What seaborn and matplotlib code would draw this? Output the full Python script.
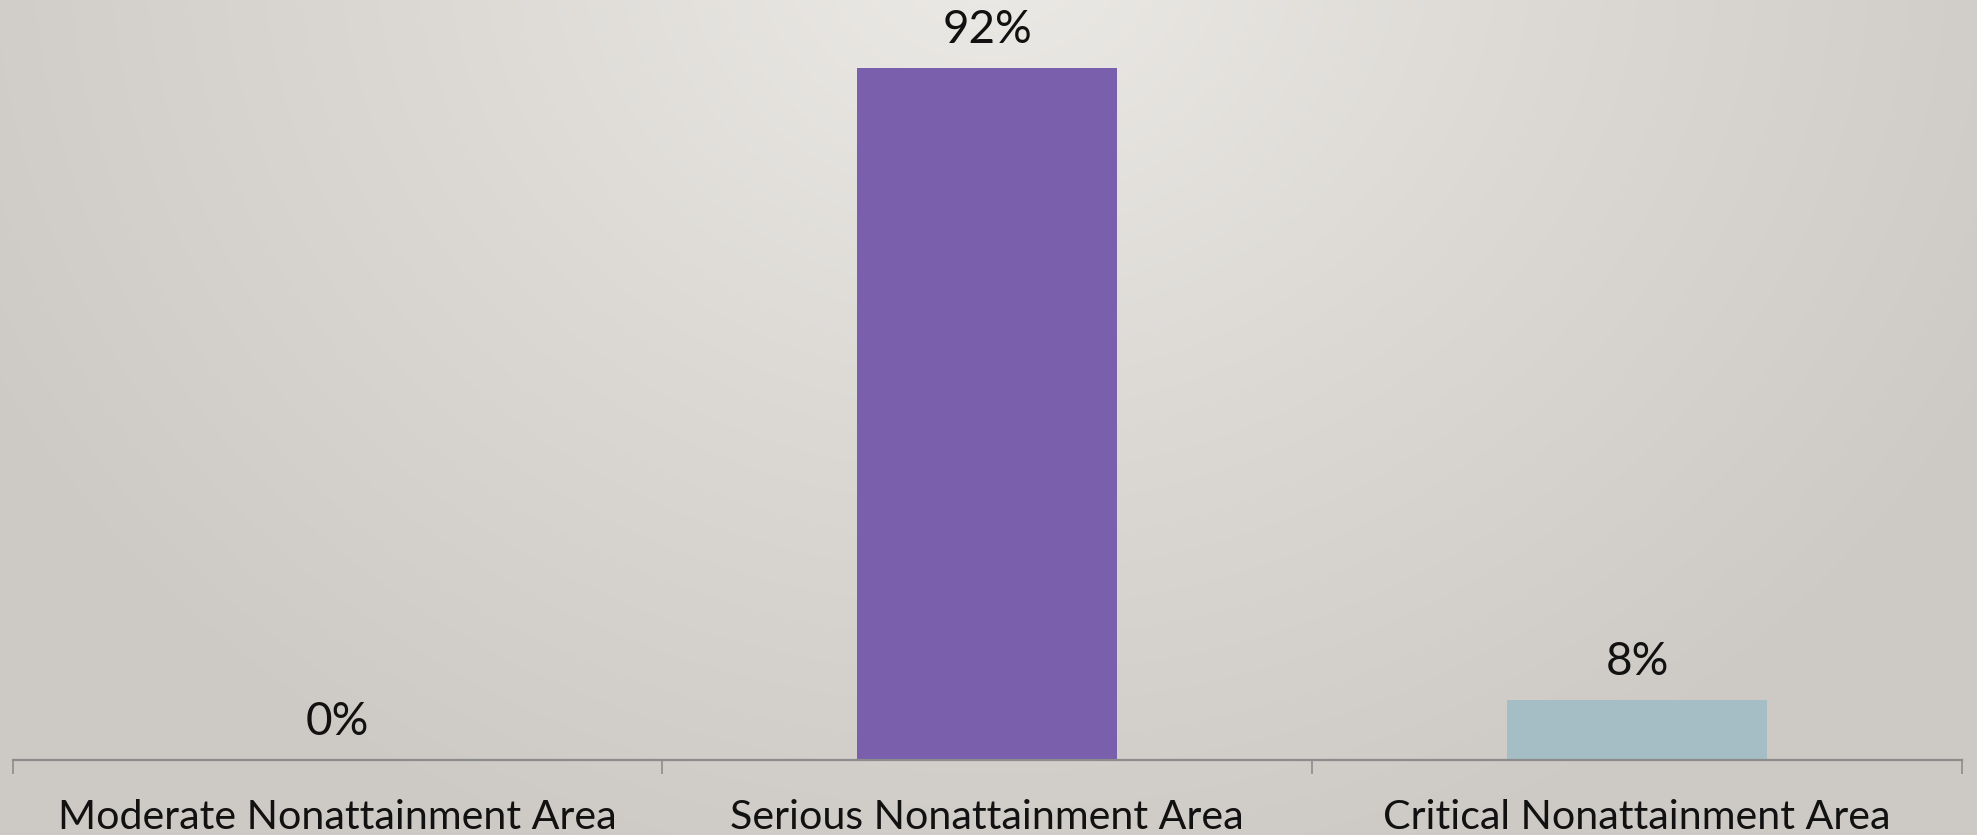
import numpy as np
import pandas as pd
import matplotlib
matplotlib.use("Agg")
import matplotlib.pyplot as plt
import seaborn as sns
from matplotlib.colors import LinearSegmentedColormap

categories = ["Moderate Nonattainment Area", "Serious Nonattainment Area", "Critical Nonattainment Area"]
shares = [0, 92, 8]
labels = ["0%", "92%", "8%"]
colors = ["#7A5FAD", "#7A5FAD", "#A5BDC4"]

sns.set_theme(style="white")
plt.rcParams["font.family"] = ["Lato", "DejaVu Sans"]

W, H = 1977, 835
fig = plt.figure(figsize=(W / 100, H / 100), dpi=100)

# soft radial backdrop, brightest near the top centre
bg = fig.add_axes([0, 0, 1, 1], zorder=0)
yy, xx = np.mgrid[0:H, 0:W]
r = np.sqrt(((xx - 990) / 1150.0) ** 2 + ((yy + 60) / 1000.0) ** 2)
r = np.clip(r, 0, 1)
cmap = LinearSegmentedColormap.from_list("bg", ["#ECEAE6", "#DCD9D5", "#CDC9C4"])
bg.imshow(r, cmap=cmap, vmin=0, vmax=1, aspect="auto", extent=[0, W, H, 0])
bg.axis("off")

df = pd.DataFrame({"category": categories, "share": shares})
ax = fig.add_axes([12.6 / W, 75 / H, (1962 - 12.6) / W, 752 / H], zorder=1)
ax.patch.set_alpha(0)
sns.barplot(data=df, x="category", y="share", hue="category", palette=colors,
            width=0.4, legend=False, ax=ax, saturation=1, linewidth=0, edgecolor="none")

ax.set_xlim(-0.5, 2.5)
ax.set_ylim(0, 100)
for i, (v, t) in enumerate(zip(shares, labels)):
    ax.annotate(t, (i, v), xytext=(0, 12), textcoords="offset points",
                ha="center", va="bottom", fontsize=33, color="#111111")

for side in ["top", "right", "left"]:
    ax.spines[side].set_visible(False)
ax.spines["bottom"].set_color("#8C8C8C")
ax.spines["bottom"].set_linewidth(1.6)
ax.set_yticks([])
ax.set_xlabel("")
ax.set_ylabel("")
ax.set_xticks([-0.5, 0.5, 1.5, 2.5], minor=True)
ax.tick_params(axis="x", which="minor", length=10, width=1.2, color="#8C8C8C", bottom=True)
ax.tick_params(axis="x", which="major", length=0, pad=28, labelsize=29.6, labelcolor="#111111")

fig.savefig("out.png", dpi=100)
